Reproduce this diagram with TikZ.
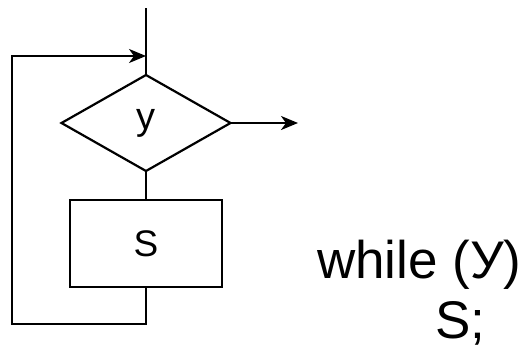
\documentclass[tikz,border=0pt]{standalone}
\usepackage{fontspec}
\setmainfont{Liberation Sans}
\usetikzlibrary{shapes.geometric,arrows.meta}
\begin{document}
\begin{tikzpicture}[x=1pt,y=-1pt,
  line/.style={line width=2.2pt,line cap=butt},
  arr/.style={line, -{Stealth[length=17pt,width=14pt,inset=5pt]}},
  dec/.style={draw,line width=2.2pt,shape=diamond,minimum width=169pt,minimum height=96pt,inner sep=0pt,outer sep=0pt,font=\fontsize{38}{44}\selectfont},
  blk/.style={draw,line width=2pt,rectangle,minimum width=152pt,minimum height=87pt,inner sep=0pt,outer sep=0pt,font=\fontsize{37}{44}\selectfont},
  code/.style={inner sep=0pt,font=\fontsize{53}{60}\selectfont}]
\useasboundingbox (0,0) rectangle (525,348);
\node[dec] (d) at (146,123) {y};
\node[blk] (s) at (146,243.5) {S};
\coordinate (top) at (146,8);
\coordinate (lb) at (12,324);
\coordinate (lt) at (12,56);
\coordinate (j) at (146,56);
\coordinate (exit) at (298,123);
\draw[line] (top) -- (d.north);
\draw[line] (d.south) -- (s.north);
\draw[arr] (d.east) -- (exit);
\draw[arr] (s.south) |- (lb) -- (lt) -- (j);
\node[code,anchor=base west] (w) at (317,278) {while (У)};
\node[code,anchor=base west] (sc) at (435,338) {S;};
\end{tikzpicture}
\end{document}
